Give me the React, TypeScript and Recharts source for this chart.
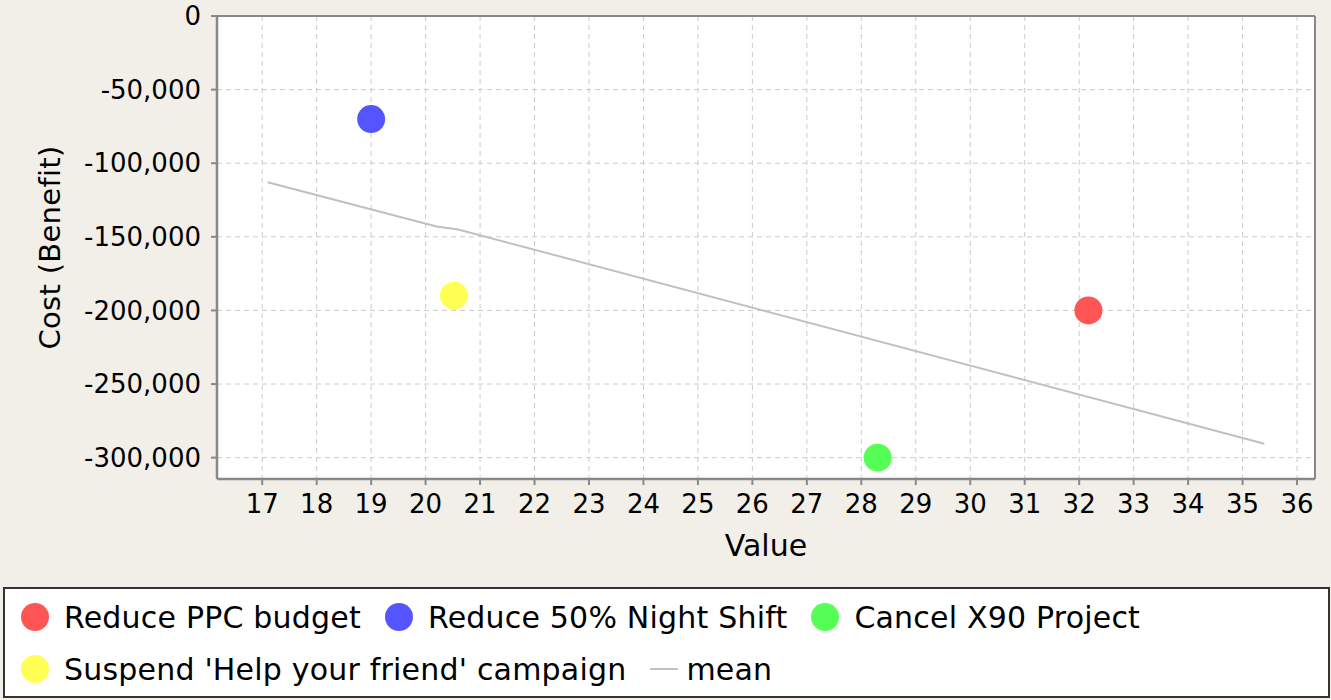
import {
  ComposedChart,
  Scatter,
  XAxis,
  YAxis,
  CartesianGrid,
  Legend,
  ReferenceLine,
} from "recharts";

const seriesNames = [
  "Reduce PPC budget",
  "Reduce 50% Night Shift",
  "Cancel X90 Project",
  "Suspend 'Help your friend' campaign",
];
const seriesColors = ["#ff5555", "#5555ff", "#55ff55", "#ffff55"];
const valueX = [32.17, 19.0, 28.3, 20.52];
const costY = [-200000, -70000, -300000, -190000];

const meanX = [17.1, 20.2, 20.6, 35.4];
const meanY = [-112900, -143000, -145000, -290500];

const xTicks = [17, 18, 19, 20, 21, 22, 23, 24, 25, 26, 27, 28, 29, 30, 31, 32, 33, 34, 35, 36];
const yTicks = [0, -50000, -100000, -150000, -200000, -250000, -300000];
const xDomain: [number, number] = [16.17, 36.33];
const yDomain: [number, number] = [-314500, 0];

const BG = "#f2efe8";
const AXIS = "#888888";
const GRID = "#cccccc";
const MEAN = "#c0c0c0";

const meanData = meanX.map((x, i) => ({ x, y: meanY[i] }));

function Dot(props: any) {
  const { cx, cy, fill } = props;
  if (cx == null || cy == null) return null;
  return <circle cx={cx} cy={cy} r={14} fill={fill} />;
}

function NoShape() {
  return <g />;
}

function ChartLegend() {
  const items = [
    ...seriesNames.map((name, i) => ({ name, color: seriesColors[i], type: "circle" })),
    { name: "mean", color: MEAN, type: "line" },
  ];
  return (
    <div
      style={{
        boxSizing: "border-box",
        height: 111,
        width: 1327,
        background: "#fff",
        border: "2px solid #333",
        display: "flex",
        flexWrap: "wrap",
        alignContent: "flex-start",
        padding: "2px 0 0 16px",
        fontSize: 30,
        letterSpacing: 0.2,
        color: "#000",
      }}
    >
      {items.map((it) => (
        <div
          key={it.name}
          style={{ display: "flex", alignItems: "center", height: 52, marginRight: 24 }}
        >
          {it.type === "circle" ? (
            <span
              style={{
                display: "inline-block",
                width: 28,
                height: 28,
                borderRadius: "50%",
                background: it.color,
                marginRight: 15,
              }}
            />
          ) : (
            <span
              style={{
                display: "inline-block",
                width: 28,
                height: 2,
                background: it.color,
                marginRight: 8,
              }}
            />
          )}
          <span>{it.name}</span>
        </div>
      ))}
    </div>
  );
}

function YLabel(props: any) {
  const vb = props.viewBox || { x: 0, y: 16, width: 217, height: 463 };
  const cx = vb.x + 50;
  const cy = vb.y + vb.height / 2;
  return (
    <text
      x={cx}
      y={cy}
      transform={`rotate(-90 ${cx} ${cy})`}
      textAnchor="middle"
      dominantBaseline="central"
      fontSize={29}
      letterSpacing={0.3}
      fill="#000"
    >
      Cost (Benefit)
    </text>
  );
}

export default function App() {
  return (
    <div
      style={{
        position: "absolute",
        left: 0,
        top: 0,
        width: 1331,
        height: 700,
        background: BG,
        fontFamily: "'DejaVu Sans', sans-serif",
      }}
    >
      <ComposedChart
        width={1331}
        height={700}
        margin={{ top: 16, right: 16, bottom: 0, left: 0 }}
      >
        <CartesianGrid
          fill="#ffffff"
          stroke={GRID}
          strokeDasharray="5 4"
          verticalValues={xTicks}
          horizontalValues={yTicks}
        />
        <XAxis
          type="number"
          dataKey="x"
          domain={xDomain}
          ticks={xTicks}
          allowDataOverflow
          height={110}
          tickSize={6}
          tickMargin={10}
          tick={{ fontSize: 26, fill: "#000" }}
          tickLine={{ stroke: AXIS, strokeWidth: 2 }}
          axisLine={{ stroke: AXIS, strokeWidth: 2.5 }}
          label={{ value: "Value", position: "insideTop", offset: 56, fontSize: 30, fill: "#000" }}
        />
        <YAxis
          type="number"
          dataKey="y"
          domain={yDomain}
          ticks={yTicks}
          allowDataOverflow
          width={217}
          tickSize={6}
          tickMargin={10}
          tick={{ fontSize: 26, fill: "#000" }}
          tickFormatter={(v: number) => v.toLocaleString("en-US")}
          tickLine={{ stroke: AXIS, strokeWidth: 2 }}
          axisLine={{ stroke: AXIS, strokeWidth: 2.5 }}
          label={<YLabel />}
        />
        <ReferenceLine y={yDomain[1]} stroke={AXIS} strokeWidth={2} />
        <ReferenceLine x={xDomain[1]} stroke={AXIS} strokeWidth={2} />
        <Scatter
          name="mean"
          data={meanData}
          line={{ stroke: MEAN, strokeWidth: 2 }}
          shape={<NoShape />}
          legendType="none"
          isAnimationActive={false}
        />
        {seriesNames.map((name, i) => (
          <Scatter
            key={name}
            name={name}
            data={[{ x: valueX[i], y: costY[i] }]}
            fill={seriesColors[i]}
            shape={<Dot />}
            isAnimationActive={false}
          />
        ))}
        <Legend
          verticalAlign="bottom"
          content={<ChartLegend />}
          wrapperStyle={{ left: 3, bottom: 2, width: 1327 }}
        />
      </ComposedChart>
    </div>
  );
}
